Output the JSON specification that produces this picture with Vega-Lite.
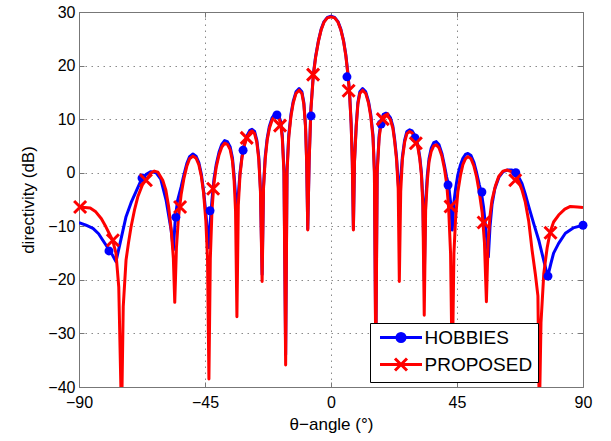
{
  "$schema": "https://vega.github.io/schema/vega-lite/v6.json",
  "width": 504,
  "height": 375,
  "autosize": {"type": "none"},
  "padding": {"left": 79, "top": 12, "right": 28, "bottom": 54},
  "background": "white",
  "config": {"font": "Liberation Sans", "view": {"stroke": null}},
  "datasets": {
    "curves": [
      {"s":"HOBBIES","t":-90,"d":-9.3},{"s":"HOBBIES","t":-87.5,"d":-9.8},{"s":"HOBBIES","t":-85,"d":-10.4},{"s":"HOBBIES","t":-83,"d":-11.4},{"s":"HOBBIES","t":-81.5,"d":-12.6},{"s":"HOBBIES","t":-79.5,"d":-14.2},{"s":"HOBBIES","t":-78,"d":-15.4},{"s":"HOBBIES","t":-76.8,"d":-16.6},{"s":"HOBBIES","t":-75,"d":-12.4},{"s":"HOBBIES","t":-73.2,"d":-8.2},{"s":"HOBBIES","t":-71.4,"d":-5.6},{"s":"HOBBIES","t":-69.6,"d":-3.5},{"s":"HOBBIES","t":-67.8,"d":-1.4},{"s":"HOBBIES","t":-66,"d":-0.3},{"s":"HOBBIES","t":-64.3,"d":0.2},{"s":"HOBBIES","t":-62.5,"d":0.0},{"s":"HOBBIES","t":-60.8,"d":-1.2},{"s":"HOBBIES","t":-58.9,"d":-5.1},{"s":"HOBBIES","t":-57.1,"d":-10.7},{"s":"HOBBIES","t":-56.3,"d":-14.4},{"s":"HOBBIES","t":-55.6,"d":-8.5},{"s":"HOBBIES","t":-54.8,"d":-5.2},{"s":"HOBBIES","t":-53.5,"d":-2.6},{"s":"HOBBIES","t":-52.5,"d":-0.3},{"s":"HOBBIES","t":-51.5,"d":1.7},{"s":"HOBBIES","t":-50.5,"d":3.0},{"s":"HOBBIES","t":-49.3,"d":3.5},{"s":"HOBBIES","t":-48.2,"d":3.1},{"s":"HOBBIES","t":-47.2,"d":1.9},{"s":"HOBBIES","t":-46.3,"d":-0.3},{"s":"HOBBIES","t":-45.5,"d":-3.4},{"s":"HOBBIES","t":-44.7,"d":-7.5},{"s":"HOBBIES","t":-44.1,"d":-11},{"s":"HOBBIES","t":-43.6,"d":-14},{"s":"HOBBIES","t":-43.1,"d":-9},{"s":"HOBBIES","t":-42.5,"d":-5},{"s":"HOBBIES","t":-41.8,"d":-1.2},{"s":"HOBBIES","t":-41,"d":1.5},{"s":"HOBBIES","t":-40,"d":3.8},{"s":"HOBBIES","t":-39,"d":5.3},{"s":"HOBBIES","t":-38,"d":6.0},{"s":"HOBBIES","t":-37,"d":5.8},{"s":"HOBBIES","t":-36,"d":4.8},{"s":"HOBBIES","t":-35.2,"d":2.8},{"s":"HOBBIES","t":-34.6,"d":-0.5},{"s":"HOBBIES","t":-34.0,"d":-4.8},{"s":"HOBBIES","t":-33.6,"d":-7.5},{"s":"HOBBIES","t":-33.2,"d":-4.8},{"s":"HOBBIES","t":-32.5,"d":0},{"s":"HOBBIES","t":-31.8,"d":3.0},{"s":"HOBBIES","t":-31,"d":5.2},{"s":"HOBBIES","t":-30,"d":6.9},{"s":"HOBBIES","t":-29,"d":7.9},{"s":"HOBBIES","t":-28.2,"d":8.1},{"s":"HOBBIES","t":-27.3,"d":7.7},{"s":"HOBBIES","t":-26.5,"d":6.1},{"s":"HOBBIES","t":-25.8,"d":3.0},{"s":"HOBBIES","t":-25.2,"d":-3.0},{"s":"HOBBIES","t":-24.6,"d":-19},{"s":"HOBBIES","t":-24.1,"d":-2.5},{"s":"HOBBIES","t":-23.5,"d":3.0},{"s":"HOBBIES","t":-22.8,"d":6.4},{"s":"HOBBIES","t":-22,"d":8.7},{"s":"HOBBIES","t":-21,"d":10.3},{"s":"HOBBIES","t":-20,"d":11.0},{"s":"HOBBIES","t":-19.5,"d":11.1},{"s":"HOBBIES","t":-18.8,"d":10.9},{"s":"HOBBIES","t":-18,"d":9.6},{"s":"HOBBIES","t":-17.4,"d":7.0},{"s":"HOBBIES","t":-16.8,"d":0.5},{"s":"HOBBIES","t":-16.2,"d":-34},{"s":"HOBBIES","t":-15.7,"d":0.5},{"s":"HOBBIES","t":-15.1,"d":7.0},{"s":"HOBBIES","t":-14.3,"d":10.9},{"s":"HOBBIES","t":-13.5,"d":13.3},{"s":"HOBBIES","t":-12.5,"d":15.1},{"s":"HOBBIES","t":-11.4,"d":15.7},{"s":"HOBBIES","t":-10.4,"d":15.1},{"s":"HOBBIES","t":-9.7,"d":13.1},{"s":"HOBBIES","t":-9.1,"d":8.8},{"s":"HOBBIES","t":-8.7,"d":2.3},{"s":"HOBBIES","t":-8.3,"d":-10.5},{"s":"HOBBIES","t":-7.8,"d":2.3},{"s":"HOBBIES","t":-7.2,"d":11.8},{"s":"HOBBIES","t":-6.3,"d":18.4},{"s":"HOBBIES","t":-5.5,"d":21.7},{"s":"HOBBIES","t":-4.5,"d":24.6},{"s":"HOBBIES","t":-3.5,"d":26.8},{"s":"HOBBIES","t":-2.5,"d":28.2},{"s":"HOBBIES","t":-1.3,"d":29.0},{"s":"HOBBIES","t":0,"d":29.2},{"s":"HOBBIES","t":1.3,"d":29.0},{"s":"HOBBIES","t":2.5,"d":28.2},{"s":"HOBBIES","t":3.5,"d":26.8},{"s":"HOBBIES","t":4.5,"d":24.6},{"s":"HOBBIES","t":5.3,"d":22.0},{"s":"HOBBIES","t":6.0,"d":18.7},{"s":"HOBBIES","t":6.6,"d":15.2},{"s":"HOBBIES","t":7.2,"d":9.3},{"s":"HOBBIES","t":7.6,"d":2.3},{"s":"HOBBIES","t":8.0,"d":-10.5},{"s":"HOBBIES","t":8.4,"d":2.3},{"s":"HOBBIES","t":9.0,"d":8.8},{"s":"HOBBIES","t":9.6,"d":13.1},{"s":"HOBBIES","t":10.3,"d":15.1},{"s":"HOBBIES","t":11.3,"d":15.7},{"s":"HOBBIES","t":12.4,"d":15.1},{"s":"HOBBIES","t":13.4,"d":13.3},{"s":"HOBBIES","t":14.2,"d":10.9},{"s":"HOBBIES","t":15.0,"d":7.0},{"s":"HOBBIES","t":15.5,"d":0.5},{"s":"HOBBIES","t":16.0,"d":-34},{"s":"HOBBIES","t":16.5,"d":0.5},{"s":"HOBBIES","t":17.2,"d":7.0},{"s":"HOBBIES","t":17.9,"d":9.6},{"s":"HOBBIES","t":18.7,"d":10.9},{"s":"HOBBIES","t":19.6,"d":11.1},{"s":"HOBBIES","t":20.2,"d":11.0},{"s":"HOBBIES","t":21.2,"d":10.3},{"s":"HOBBIES","t":22.1,"d":8.7},{"s":"HOBBIES","t":22.7,"d":6.4},{"s":"HOBBIES","t":23.4,"d":3.0},{"s":"HOBBIES","t":23.9,"d":-1.0},{"s":"HOBBIES","t":24.4,"d":-5.0},{"s":"HOBBIES","t":24.9,"d":-1.0},{"s":"HOBBIES","t":25.5,"d":3.0},{"s":"HOBBIES","t":26.3,"d":6.1},{"s":"HOBBIES","t":27.1,"d":7.7},{"s":"HOBBIES","t":28.1,"d":8.0},{"s":"HOBBIES","t":29.0,"d":7.8},{"s":"HOBBIES","t":30.0,"d":6.9},{"s":"HOBBIES","t":31.0,"d":5.2},{"s":"HOBBIES","t":31.7,"d":3.0},{"s":"HOBBIES","t":32.3,"d":0},{"s":"HOBBIES","t":32.8,"d":-5},{"s":"HOBBIES","t":33.3,"d":-20},{"s":"HOBBIES","t":33.8,"d":-5.5},{"s":"HOBBIES","t":34.4,"d":-0.5},{"s":"HOBBIES","t":35.0,"d":2.6},{"s":"HOBBIES","t":35.8,"d":4.6},{"s":"HOBBIES","t":36.7,"d":5.6},{"s":"HOBBIES","t":37.6,"d":5.8},{"s":"HOBBIES","t":38.6,"d":5.2},{"s":"HOBBIES","t":39.6,"d":3.6},{"s":"HOBBIES","t":40.5,"d":1.4},{"s":"HOBBIES","t":41.3,"d":-0.8},{"s":"HOBBIES","t":42.0,"d":-2.3},{"s":"HOBBIES","t":42.7,"d":-5.5},{"s":"HOBBIES","t":43.3,"d":-10.7},{"s":"HOBBIES","t":43.9,"d":-5.5},{"s":"HOBBIES","t":44.5,"d":-3.0},{"s":"HOBBIES","t":45.3,"d":-0.4},{"s":"HOBBIES","t":46.2,"d":1.4},{"s":"HOBBIES","t":47.1,"d":2.7},{"s":"HOBBIES","t":48.0,"d":3.4},{"s":"HOBBIES","t":48.9,"d":3.6},{"s":"HOBBIES","t":50.0,"d":3.2},{"s":"HOBBIES","t":51.0,"d":2.0},{"s":"HOBBIES","t":52.0,"d":0.0},{"s":"HOBBIES","t":53.0,"d":-2.3},{"s":"HOBBIES","t":53.7,"d":-3.7},{"s":"HOBBIES","t":54.5,"d":-6.5},{"s":"HOBBIES","t":55.3,"d":-10.5},{"s":"HOBBIES","t":55.8,"d":-13.5},{"s":"HOBBIES","t":56.2,"d":-15.7},{"s":"HOBBIES","t":56.8,"d":-10},{"s":"HOBBIES","t":57.5,"d":-6},{"s":"HOBBIES","t":58.5,"d":-3},{"s":"HOBBIES","t":60,"d":-0.8},{"s":"HOBBIES","t":61.5,"d":0.2},{"s":"HOBBIES","t":63,"d":0.5},{"s":"HOBBIES","t":64.6,"d":0.5},{"s":"HOBBIES","t":65.8,"d":0.0},{"s":"HOBBIES","t":67,"d":-0.8},{"s":"HOBBIES","t":68.2,"d":-2.0},{"s":"HOBBIES","t":69.4,"d":-4.0},{"s":"HOBBIES","t":70.6,"d":-6.3},{"s":"HOBBIES","t":72.4,"d":-9.5},{"s":"HOBBIES","t":74.2,"d":-12.6},{"s":"HOBBIES","t":75.8,"d":-16},{"s":"HOBBIES","t":77.4,"d":-19.4},{"s":"HOBBIES","t":78.5,"d":-17},{"s":"HOBBIES","t":79.5,"d":-15},{"s":"HOBBIES","t":81.3,"d":-13.2},{"s":"HOBBIES","t":83.7,"d":-11.3},{"s":"HOBBIES","t":86.5,"d":-10.3},{"s":"HOBBIES","t":90,"d":-9.8},
      {"s":"PROPOSED","t":-90,"d":-6.5},{"s":"PROPOSED","t":-88,"d":-6.5},{"s":"PROPOSED","t":-86,"d":-6.6},{"s":"PROPOSED","t":-84,"d":-7.3},{"s":"PROPOSED","t":-82,"d":-8.6},{"s":"PROPOSED","t":-80.4,"d":-10.1},{"s":"PROPOSED","t":-78,"d":-12.6},{"s":"PROPOSED","t":-76.8,"d":-15},{"s":"PROPOSED","t":-75.8,"d":-21.3},{"s":"PROPOSED","t":-74.8,"d":-46},{"s":"PROPOSED","t":-74.2,"d":-25},{"s":"PROPOSED","t":-73.2,"d":-16.3},{"s":"PROPOSED","t":-72.3,"d":-13},{"s":"PROPOSED","t":-71.4,"d":-10.1},{"s":"PROPOSED","t":-70.2,"d":-7},{"s":"PROPOSED","t":-69,"d":-4.5},{"s":"PROPOSED","t":-67.3,"d":-2.2},{"s":"PROPOSED","t":-65.5,"d":-0.9},{"s":"PROPOSED","t":-64.2,"d":0.0},{"s":"PROPOSED","t":-63.1,"d":0.3},{"s":"PROPOSED","t":-61.8,"d":0.1},{"s":"PROPOSED","t":-60.1,"d":-1.4},{"s":"PROPOSED","t":-59,"d":-3.2},{"s":"PROPOSED","t":-58,"d":-6.3},{"s":"PROPOSED","t":-57,"d":-11},{"s":"PROPOSED","t":-56.3,"d":-16},{"s":"PROPOSED","t":-55.8,"d":-24.2},{"s":"PROPOSED","t":-55.2,"d":-14},{"s":"PROPOSED","t":-54.5,"d":-8.5},{"s":"PROPOSED","t":-53.5,"d":-4.0},{"s":"PROPOSED","t":-52.5,"d":-1.0},{"s":"PROPOSED","t":-51.5,"d":1.2},{"s":"PROPOSED","t":-50.5,"d":2.6},{"s":"PROPOSED","t":-49.3,"d":3.1},{"s":"PROPOSED","t":-48.2,"d":2.7},{"s":"PROPOSED","t":-47.2,"d":1.5},{"s":"PROPOSED","t":-46.3,"d":-0.7},{"s":"PROPOSED","t":-45.5,"d":-3.8},{"s":"PROPOSED","t":-44.7,"d":-9},{"s":"PROPOSED","t":-44.1,"d":-16},{"s":"PROPOSED","t":-43.6,"d":-38.5},{"s":"PROPOSED","t":-43.1,"d":-16},{"s":"PROPOSED","t":-42.5,"d":-7},{"s":"PROPOSED","t":-41.8,"d":-2},{"s":"PROPOSED","t":-41,"d":1.0},{"s":"PROPOSED","t":-40,"d":3.3},{"s":"PROPOSED","t":-39,"d":4.8},{"s":"PROPOSED","t":-38,"d":5.5},{"s":"PROPOSED","t":-37,"d":5.3},{"s":"PROPOSED","t":-36,"d":4.3},{"s":"PROPOSED","t":-35.2,"d":2.2},{"s":"PROPOSED","t":-34.6,"d":-1.5},{"s":"PROPOSED","t":-34.1,"d":-7},{"s":"PROPOSED","t":-33.6,"d":-26.9},{"s":"PROPOSED","t":-33.1,"d":-6},{"s":"PROPOSED","t":-32.5,"d":-0.5},{"s":"PROPOSED","t":-31.8,"d":2.8},{"s":"PROPOSED","t":-31,"d":5.0},{"s":"PROPOSED","t":-30,"d":6.6},{"s":"PROPOSED","t":-29,"d":7.5},{"s":"PROPOSED","t":-28.2,"d":7.8},{"s":"PROPOSED","t":-27.3,"d":7.3},{"s":"PROPOSED","t":-26.5,"d":5.7},{"s":"PROPOSED","t":-25.8,"d":2.5},{"s":"PROPOSED","t":-25.2,"d":-3.5},{"s":"PROPOSED","t":-24.6,"d":-20.3},{"s":"PROPOSED","t":-24.1,"d":-3},{"s":"PROPOSED","t":-23.5,"d":2.5},{"s":"PROPOSED","t":-22.8,"d":6.0},{"s":"PROPOSED","t":-22,"d":8.3},{"s":"PROPOSED","t":-21,"d":9.9},{"s":"PROPOSED","t":-20,"d":10.6},{"s":"PROPOSED","t":-19.5,"d":10.8},{"s":"PROPOSED","t":-18.8,"d":10.5},{"s":"PROPOSED","t":-18,"d":9.2},{"s":"PROPOSED","t":-17.4,"d":6.5},{"s":"PROPOSED","t":-16.8,"d":0},{"s":"PROPOSED","t":-16.2,"d":-35.9},{"s":"PROPOSED","t":-15.7,"d":0},{"s":"PROPOSED","t":-15.1,"d":6.5},{"s":"PROPOSED","t":-14.3,"d":10.5},{"s":"PROPOSED","t":-13.5,"d":13.0},{"s":"PROPOSED","t":-12.5,"d":14.8},{"s":"PROPOSED","t":-11.4,"d":15.4},{"s":"PROPOSED","t":-10.4,"d":14.8},{"s":"PROPOSED","t":-9.7,"d":12.8},{"s":"PROPOSED","t":-9.1,"d":8.5},{"s":"PROPOSED","t":-8.7,"d":2},{"s":"PROPOSED","t":-8.3,"d":-10.7},{"s":"PROPOSED","t":-7.8,"d":2},{"s":"PROPOSED","t":-7.2,"d":11.5},{"s":"PROPOSED","t":-6.3,"d":18.2},{"s":"PROPOSED","t":-5.5,"d":21.5},{"s":"PROPOSED","t":-4.5,"d":24.5},{"s":"PROPOSED","t":-3.5,"d":26.7},{"s":"PROPOSED","t":-2.5,"d":28.1},{"s":"PROPOSED","t":-1.3,"d":28.9},{"s":"PROPOSED","t":0,"d":29.1},{"s":"PROPOSED","t":1.3,"d":28.9},{"s":"PROPOSED","t":2.5,"d":28.1},{"s":"PROPOSED","t":3.5,"d":26.7},{"s":"PROPOSED","t":4.5,"d":24.5},{"s":"PROPOSED","t":5.3,"d":21.8},{"s":"PROPOSED","t":6.0,"d":18.5},{"s":"PROPOSED","t":6.6,"d":15.0},{"s":"PROPOSED","t":7.2,"d":9},{"s":"PROPOSED","t":7.6,"d":2},{"s":"PROPOSED","t":8.0,"d":-10.7},{"s":"PROPOSED","t":8.4,"d":2},{"s":"PROPOSED","t":9.0,"d":8.5},{"s":"PROPOSED","t":9.6,"d":12.8},{"s":"PROPOSED","t":10.3,"d":14.8},{"s":"PROPOSED","t":11.3,"d":15.4},{"s":"PROPOSED","t":12.4,"d":14.8},{"s":"PROPOSED","t":13.4,"d":13.0},{"s":"PROPOSED","t":14.2,"d":10.5},{"s":"PROPOSED","t":15.0,"d":6.5},{"s":"PROPOSED","t":15.5,"d":0},{"s":"PROPOSED","t":16.0,"d":-36},{"s":"PROPOSED","t":16.5,"d":0},{"s":"PROPOSED","t":17.2,"d":6.5},{"s":"PROPOSED","t":17.9,"d":9.2},{"s":"PROPOSED","t":18.7,"d":10.5},{"s":"PROPOSED","t":19.6,"d":10.8},{"s":"PROPOSED","t":20.2,"d":10.6},{"s":"PROPOSED","t":21.2,"d":9.9},{"s":"PROPOSED","t":22.1,"d":8.3},{"s":"PROPOSED","t":22.7,"d":6.0},{"s":"PROPOSED","t":23.4,"d":2.5},{"s":"PROPOSED","t":24.0,"d":-3},{"s":"PROPOSED","t":24.4,"d":-20.3},{"s":"PROPOSED","t":24.9,"d":-3.5},{"s":"PROPOSED","t":25.5,"d":2.5},{"s":"PROPOSED","t":26.3,"d":5.7},{"s":"PROPOSED","t":27.1,"d":7.3},{"s":"PROPOSED","t":28.1,"d":7.7},{"s":"PROPOSED","t":29.0,"d":7.4},{"s":"PROPOSED","t":30.0,"d":6.5},{"s":"PROPOSED","t":31.0,"d":4.8},{"s":"PROPOSED","t":31.7,"d":2.6},{"s":"PROPOSED","t":32.3,"d":-0.5},{"s":"PROPOSED","t":32.8,"d":-6},{"s":"PROPOSED","t":33.3,"d":-26.6},{"s":"PROPOSED","t":33.8,"d":-7},{"s":"PROPOSED","t":34.4,"d":-1.5},{"s":"PROPOSED","t":35.0,"d":2.0},{"s":"PROPOSED","t":35.8,"d":4.0},{"s":"PROPOSED","t":36.7,"d":5.0},{"s":"PROPOSED","t":37.6,"d":5.2},{"s":"PROPOSED","t":38.6,"d":4.6},{"s":"PROPOSED","t":39.6,"d":3.1},{"s":"PROPOSED","t":40.5,"d":0.8},{"s":"PROPOSED","t":41.3,"d":-2},{"s":"PROPOSED","t":42.0,"d":-6.5},{"s":"PROPOSED","t":42.7,"d":-15},{"s":"PROPOSED","t":43.3,"d":-38},{"s":"PROPOSED","t":43.9,"d":-15},{"s":"PROPOSED","t":44.5,"d":-8.5},{"s":"PROPOSED","t":45.3,"d":-3.6},{"s":"PROPOSED","t":46.2,"d":-0.6},{"s":"PROPOSED","t":47.1,"d":1.5},{"s":"PROPOSED","t":48.0,"d":2.6},{"s":"PROPOSED","t":48.9,"d":3.0},{"s":"PROPOSED","t":50.0,"d":2.6},{"s":"PROPOSED","t":51.0,"d":1.3},{"s":"PROPOSED","t":52.0,"d":-0.8},{"s":"PROPOSED","t":53.0,"d":-3.8},{"s":"PROPOSED","t":54.0,"d":-7.5},{"s":"PROPOSED","t":54.8,"d":-13},{"s":"PROPOSED","t":55.5,"d":-24.1},{"s":"PROPOSED","t":56.1,"d":-13},{"s":"PROPOSED","t":56.8,"d":-8},{"s":"PROPOSED","t":57.5,"d":-5.1},{"s":"PROPOSED","t":58.7,"d":-2.5},{"s":"PROPOSED","t":59.9,"d":-0.7},{"s":"PROPOSED","t":61.4,"d":0.3},{"s":"PROPOSED","t":62.9,"d":0.5},{"s":"PROPOSED","t":64.3,"d":0.2},{"s":"PROPOSED","t":65.8,"d":-0.5},{"s":"PROPOSED","t":67,"d":-1.6},{"s":"PROPOSED","t":68.2,"d":-3.2},{"s":"PROPOSED","t":69.4,"d":-5.5},{"s":"PROPOSED","t":70.6,"d":-9.0},{"s":"PROPOSED","t":71.8,"d":-14.4},{"s":"PROPOSED","t":73.0,"d":-19},{"s":"PROPOSED","t":73.9,"d":-23},{"s":"PROPOSED","t":74.4,"d":-46},{"s":"PROPOSED","t":75.0,"d":-28},{"s":"PROPOSED","t":76.0,"d":-18.8},{"s":"PROPOSED","t":77.2,"d":-14},{"s":"PROPOSED","t":78.3,"d":-11.0},{"s":"PROPOSED","t":79.5,"d":-9.2},{"s":"PROPOSED","t":81.3,"d":-7.9},{"s":"PROPOSED","t":83.5,"d":-6.8},{"s":"PROPOSED","t":85.5,"d":-6.3},{"s":"PROPOSED","t":88,"d":-6.4},{"s":"PROPOSED","t":90,"d":-6.5}
    ],
    "hobbiesMarks": [
      {"t":-79.3,"d":-14.6},{"t":-67.5,"d":-1.0},{"t":-55.4,"d":-8.3},{"t":-43.2,"d":-7.1},{"t":-31.4,"d":4.2},{"t":-19.3,"d":10.8},{"t":-7.1,"d":10.6},{"t":5.7,"d":17.9},{"t":17.9,"d":9.1},{"t":30.0,"d":6.5},{"t":41.8,"d":-2.3},{"t":53.9,"d":-3.6},{"t":66.0,"d":0.0},{"t":77.5,"d":-19.3},{"t":90,"d":-9.8}
    ],
    "proposedMarks": [
      {"t":-89.6,"d":-6.4},{"t":-77.9,"d":-12.6},{"t":-66.1,"d":-1.4},{"t":-53.9,"d":-6.4},{"t":-42.1,"d":-3.0},{"t":-30.1,"d":6.5},{"t":-18.2,"d":8.8},{"t":-6.4,"d":18.3},{"t":6.3,"d":15.3},{"t":18.5,"d":10.0},{"t":30.3,"d":5.5},{"t":42.7,"d":-6.3},{"t":54.5,"d":-9.3},{"t":65.8,"d":-1.4},{"t":78.4,"d":-11.2}
    ]
  },
  "resolve": {"axis": {"x": "independent", "y": "independent"}},
  "layer": [
    {
      "data": {"name": "curves"},
      "mark": {"type": "line", "strokeWidth": 3, "clip": true, "strokeJoin": "round"},
      "encoding": {
        "x": {"field": "t", "type": "quantitative", "scale": {"domain": [-90, 90], "nice": false, "zero": false},
          "axis": {"orient": "bottom", "values": [-90, -45, 0, 45, 90], "title": "θ−angle (°)", "grid": true, "gridDash": [1.5, 4.5], "gridColor": "#8a8a8a", "gridWidth": 1, "tickSize": -5, "tickColor": "#777", "domainColor": "#777", "labelPadding": 12, "labelFontSize": 16, "labelColor": "#000", "labelOverlap": false, "labelFlush": false, "titleFontSize": 17, "titleFontWeight": "normal", "titleColor": "#000", "titlePadding": 6}},
        "y": {"field": "d", "type": "quantitative", "scale": {"domain": [-40, 30], "nice": false, "zero": false},
          "axis": {"orient": "left", "values": [-40, -30, -20, -10, 0, 10, 20, 30], "title": "directivity (dB)", "grid": true, "gridDash": [1.5, 4.5], "gridColor": "#8a8a8a", "gridWidth": 1, "tickSize": -5, "tickColor": "#777", "domainColor": "#777", "labelPadding": 9, "labelFontSize": 16, "labelColor": "#000", "labelOverlap": false, "labelFlush": false, "titleFontSize": 17, "titleFontWeight": "normal", "titleColor": "#000", "titlePadding": 10}},
        "color": {"field": "s", "type": "nominal",
          "scale": {"domain": ["HOBBIES", "PROPOSED"], "range": ["#0000ff", "#ff0000"]},
          "legend": {"title": null, "orient": "none", "legendX": 291, "legendY": 311, "fillColor": "white", "strokeColor": "#000", "padding": 5, "labelFontSize": 19, "labelColor": "#000", "labelFont": "Liberation Sans", "symbolSize": 144, "symbolStrokeWidth": 3, "symbolOffset": 16.5, "labelOffset": 14, "rowPadding": 4,
            "encode": {"symbols": {"update": {
              "shape": {"signal": "datum.value === 'HOBBIES' ? 'M-3.5,0H3.5M0.67,0A0.67,0.67,0,1,1,-0.67,0A0.67,0.67,0,1,1,0.67,0' : 'M-3.5,0H3.5M-1,-1L1,1M-1,1L1,-1'"},
              "fill": {"signal": "datum.value === 'HOBBIES' ? '#0000ff' : 'transparent'"},
              "stroke": {"signal": "datum.value === 'HOBBIES' ? '#0000ff' : '#ff0000'"},
              "strokeWidth": {"value": 3}
            }}}}}
      }
    },
    {
      "data": {"name": "hobbiesMarks"},
      "mark": {"type": "point", "shape": "circle", "filled": true, "size": 80, "opacity": 1, "color": "#0000ff"},
      "encoding": {
        "x": {"field": "t", "type": "quantitative", "scale": {"domain": [-90, 90], "nice": false, "zero": false},
          "axis": {"orient": "top", "values": [-90, -45, 0, 45, 90], "labels": false, "title": null, "grid": false, "tickSize": -5, "tickColor": "#777", "domainColor": "#777"}},
        "y": {"field": "d", "type": "quantitative", "scale": {"domain": [-40, 30], "nice": false, "zero": false},
          "axis": {"orient": "right", "values": [-40, -30, -20, -10, 0, 10, 20, 30], "labels": false, "title": null, "grid": false, "tickSize": -5, "tickColor": "#777", "domainColor": "#777"}}
      }
    },
    {
      "data": {"name": "proposedMarks"},
      "mark": {"type": "point", "shape": "M-1,-1L1,1M-1,1L1,-1", "filled": false, "size": 144, "strokeWidth": 3, "opacity": 1, "color": "#ff0000"},
      "encoding": {
        "x": {"field": "t", "type": "quantitative", "scale": {"domain": [-90, 90], "nice": false, "zero": false}, "axis": null},
        "y": {"field": "d", "type": "quantitative", "scale": {"domain": [-40, 30], "nice": false, "zero": false}, "axis": null}
      }
    }
  ]
}
